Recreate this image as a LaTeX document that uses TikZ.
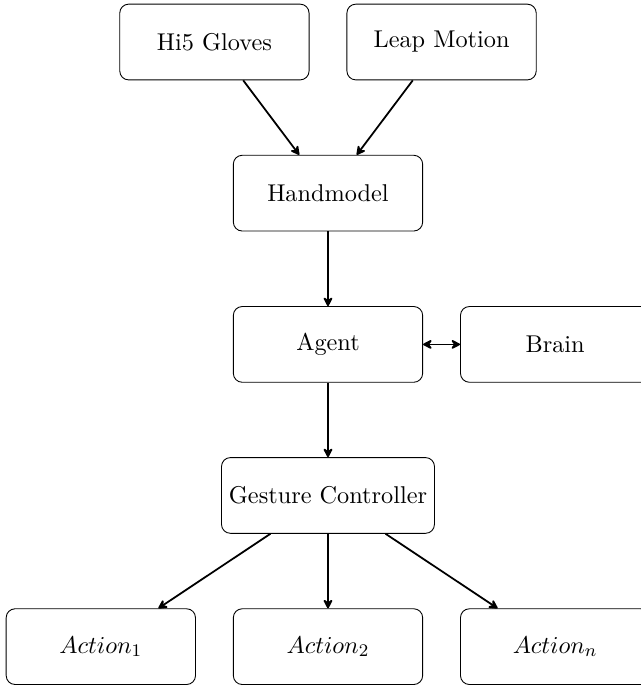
\documentclass[tikz,border=0pt]{standalone}
\usetikzlibrary{arrows.meta}
\tikzset{
  blockbox/.style={draw, rounded corners=4pt, minimum width=3cm, minimum height=1.2cm,
    font=\fontsize{10.95}{13.6}\selectfont, inner sep=0.3333em},
  tiphead/.tip={Stealth[length=5.2pt, width=5.4pt, inset=2pt, round]},
  conn/.style={-tiphead, thick},
  biconn/.style={tiphead-tiphead, thick}
}
\begin{document}
\begin{tikzpicture}
\clip (0,0) rectangle (10.158,-10.856);
\node[blockbox] (hi5)  at (3.398,-0.666) {Hi5 Gloves};
\node[blockbox] (leap) at (6.998,-0.666) {Leap Motion};
\node[blockbox] (hand) at (5.198,-3.061) {Handmodel};
\node[blockbox] (agent) at (5.198,-5.458) {Agent};
\node[blockbox] (brain) at (8.798,-5.458) {Brain};
\node[blockbox] (gest) at (5.198,-7.852) {Gesture Controller};
\node[blockbox] (a1) at (1.598,-10.248) {$Action_1$};
\node[blockbox] (a2) at (5.198,-10.248) {$Action_2$};
\node[blockbox] (an) at (8.798,-10.248) {$Action_n$};
\draw[conn] (hi5) -- (hand);
\draw[conn] (leap) -- (hand);
\draw[conn] (hand) -- (agent);
\draw[biconn] (agent) -- (brain);
\draw[conn] (agent) -- (gest);
\draw[conn] (gest) -- (a1);
\draw[conn] (gest) -- (a2);
\draw[conn] (gest) -- (an);
\end{tikzpicture}
\end{document}
